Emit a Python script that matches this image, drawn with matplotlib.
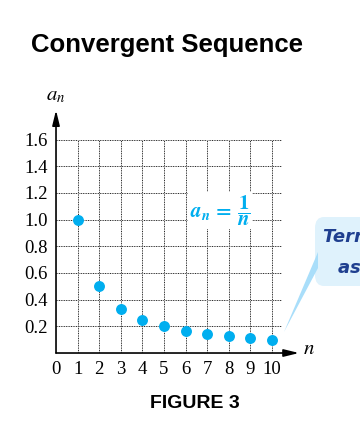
import matplotlib
matplotlib.use("Agg")
import matplotlib.pyplot as plt
from matplotlib.patches import FancyBboxPatch, Polygon

# sequence a_n = 1/n
n_vals = [1, 2, 3, 4, 5, 6, 7, 8, 9, 10]
a_vals = [1.0, 0.5, 0.333, 0.25, 0.2, 0.167, 0.143, 0.125, 0.111, 0.1]
x_ticks = [0, 1, 2, 3, 4, 5, 6, 7, 8, 9, 10]
y_ticks = [0.2, 0.4, 0.6, 0.8, 1.0, 1.2, 1.4, 1.6]
y_labels = ["0.2", "0.4", "0.6", "0.8", "1.0", "1.2", "1.4", "1.6"]

dot_color = "#00aeef"
plt.rcParams["mathtext.fontset"] = "stix"

fig = plt.figure(figsize=(3.6, 4.4), dpi=100)
ax = fig.add_axes([0.1556, 0.1977, 0.678, 0.561])
ax.set_xlim(0, 11.3)
ax.set_ylim(0, 1.85)
for s in ax.spines.values():
    s.set_visible(False)

# grid: light grey line with black dots on top
for y in y_ticks:
    ax.plot([0, 10.4], [y, y], color="#c8c8c8", lw=0.6, zorder=1)
    ax.plot([0, 10.4], [y, y], color="#222222", lw=0.7, ls=(0, (1, 1.5)), zorder=1)
for x in x_ticks[1:]:
    ax.plot([x, x], [0, 1.6], color="#c8c8c8", lw=0.6, zorder=1)
    ax.plot([x, x], [0, 1.6], color="#222222", lw=0.7, ls=(0, (1, 1.5)), zorder=1)

# axes with arrow heads
ax.annotate("", xy=(11.25, 0), xytext=(0, 0), annotation_clip=False,
            arrowprops=dict(arrowstyle="-|>,head_length=0.9,head_width=0.22", color="black", lw=1.2, shrinkA=0, shrinkB=0))
ax.annotate("", xy=(0, 1.82), xytext=(0, 0), annotation_clip=False,
            arrowprops=dict(arrowstyle="-|>,head_length=0.9,head_width=0.22", color="black", lw=1.2, shrinkA=0, shrinkB=0))

ax.scatter(n_vals, a_vals, s=62, color=dot_color, zorder=3, clip_on=False, linewidths=0)

ax.set_xticks(x_ticks)
ax.set_xticklabels([str(v) for v in x_ticks], family="Liberation Serif", fontsize=13.5)
ax.set_yticks(y_ticks)
ax.set_yticklabels(y_labels, family="Liberation Serif", fontsize=13.5)
ax.tick_params(axis="x", length=0, pad=6)
ax.tick_params(axis="y", length=0, pad=6)

ax.text(0, 1.93, "$a_n$", ha="center", va="center", fontsize=15, clip_on=False)
ax.text(11.7, 0.04, "$n$", ha="center", va="center", fontsize=15, clip_on=False)

ax.text(7.6, 1.07, r"$\mathbfit{a_n}\,\mathbf{=}\,\dfrac{\mathbf{1}}{\mathbfit{n}}$", color=dot_color,
        ha="center", va="center", fontsize=15, zorder=4,
        bbox=dict(facecolor="white", edgecolor="none", pad=1))

# callout on the right edge
box = FancyBboxPatch((315 / 360, 154 / 440), 0.2, 69 / 440, transform=fig.transFigure,
                     boxstyle="round,pad=0,rounding_size=0.025", facecolor="#dff2fc", edgecolor="none")
fig.patches.append(box)
ptr = Polygon([(318 / 360, 188 / 440), (318 / 360, 172 / 440), (284 / 360, 108 / 440)],
              closed=True, transform=fig.transFigure, facecolor="#a9defa", edgecolor="none")
fig.patches.append(ptr)
fig.text(323 / 360, 1 - 237 / 440, "Terms approach 0", ha="left", va="center", fontsize=13,
         style="italic", weight="bold", color="#1f3f8f", family="DejaVu Sans")
fig.text(337 / 360, 1 - 268 / 440, "as $n$ increases", ha="left", va="center", fontsize=13,
         style="italic", weight="bold", color="#1f3f8f", family="DejaVu Sans")

fig.text(0.465, 0.898, "Convergent Sequence", ha="center", va="center", fontsize=18.5,
         weight="bold", family="Liberation Sans")
fig.text(0.54, 0.084, "FIGURE 3", ha="center", va="center", fontsize=14,
         weight="bold", family="Liberation Sans")

fig.savefig("out.png", dpi=100)
